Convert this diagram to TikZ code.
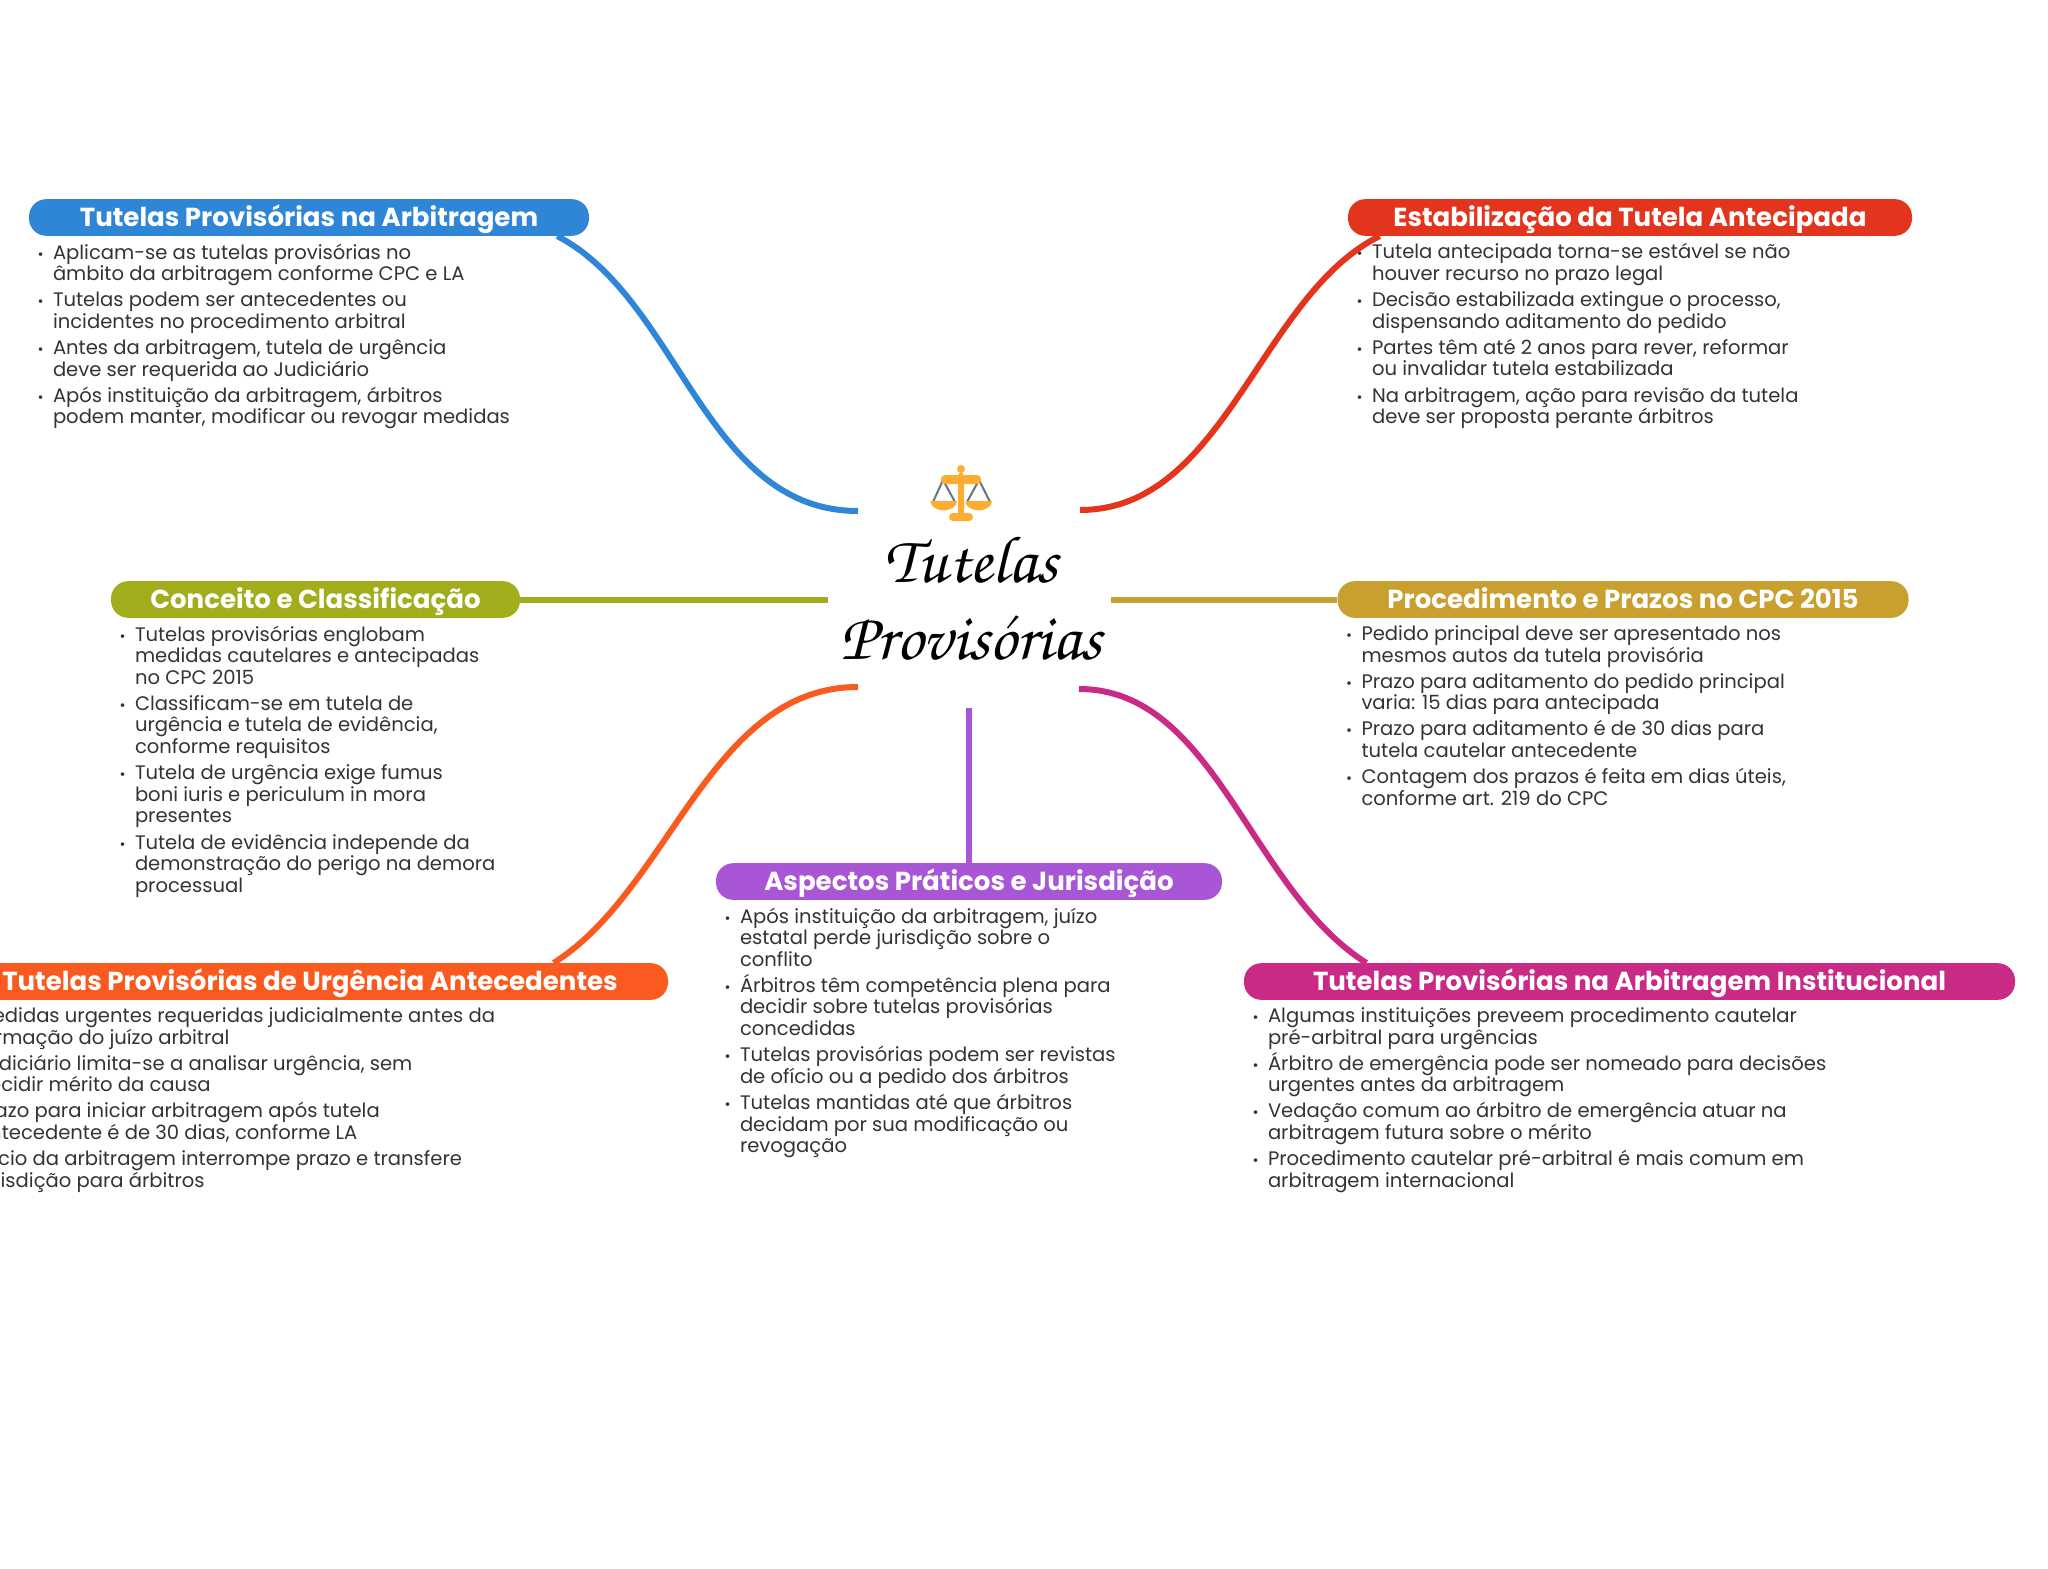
\documentclass[tikz,border=0pt]{standalone}
\usepackage[T1]{fontenc}
\usepackage{fontspec}
\setmainfont{Poppins}
\usepackage{tikz}
\usetikzlibrary{positioning}
\definecolor{ink}{HTML}{333333}
\definecolor{blue}{HTML}{2F86D7}
\definecolor{red}{HTML}{E3351E}
\definecolor{olive}{HTML}{A2AD1B}
\definecolor{gold}{HTML}{C9A02F}
\definecolor{purple}{HTML}{A855D6}
\definecolor{orange}{HTML}{F95A1F}
\definecolor{magenta}{HTML}{C92A86}
\definecolor{scalegold}{HTML}{FFAC33}
\definecolor{scalegrey}{HTML}{66757F}
\normallineskiplimit=-20pt
\lineskiplimit=-20pt
\newcommand{\bul}{\leavevmode\llap{{\fontsize{11}{11}\selectfont•}\hspace{7pt}}}
\begin{document}
\begin{tikzpicture}[x=0.75pt,y=-0.75pt,
 pill/.style={rounded corners=13pt,minimum height=27.5pt,inner sep=0pt,text height=18.5pt,text depth=5pt,text=white,font=\fontsize{19.55}{20}\selectfont\bfseries},
 bullets/.style={align=left,inner sep=0pt,text=ink,font=\fontsize{14.68}{16.2}\selectfont},
 branch/.style={line width=4.5pt},
 hubtext/.style={align=center,inner sep=0pt,text=black,font=\fontsize{50}{57.75}\fontencoding{T1}\fontfamily{pzc}\fontseries{mb}\fontshape{it}\selectfont}]
 \clip (0,0) rectangle (2048,1569);
 \node[hubtext] (hub) at (971,598) {Tutelas\\Provisórias};
 \coordinate (hubnw) at (858,511);
 \coordinate (hubne) at (1080,510);
 \coordinate (hubw) at (828,599.5);
 \coordinate (hube) at (1111,599.5);
 \coordinate (hubsw) at (858,687);
 \coordinate (hubse) at (1079,689);
 \coordinate (hubs) at (969,708);

 \node[pill,fill=blue,minimum width=420pt] (arb) at (309,217.5) {Tutelas Provisórias na Arbitragem};
 \node[pill,fill=red,minimum width=423pt] (est) at (1630,217.5) {Estabilização da Tutela Antecipada};
 \node[pill,fill=olive,minimum width=306.75pt] (con) at (315.5,599.5) {Conceito e Classificação};
 \node[pill,fill=gold,minimum width=428.25pt] (pro) at (1623,599.5) {Procedimento e Prazos no CPC 2015};
 \node[pill,fill=purple,minimum width=379.5pt] (asp) at (969,881.5) {Aspectos Práticos e Jurisdição};
 \node[pill,fill=orange,minimum width=537pt] (urg) at (310,981.5) {Tutelas Provisórias de Urgência Antecedentes};
 \node[pill,fill=magenta,minimum width=578.25pt] (ins) at (1629.5,981.5) {Tutelas Provisórias na Arbitragem Institucional};

 \node[bullets,below right=5.4pt and 18pt of arb.south west] (arbtxt) {\bul Aplicam-se as tutelas provisórias no\\âmbito da arbitragem conforme CPC e LA\\[3.4pt]
 \bul Tutelas podem ser antecedentes ou\\incidentes no procedimento arbitral\\[3.4pt]
 \bul Antes da arbitragem, tutela de urgência\\deve ser requerida ao Judiciário\\[3.4pt]
 \bul Após instituição da arbitragem, árbitros\\podem manter, modificar ou revogar medidas};
 \node[bullets,below right=5.4pt and 18pt of est.south west] (esttxt) {\bul Tutela antecipada torna-se estável se não\\houver recurso no prazo legal\\[3.4pt]
 \bul Decisão estabilizada extingue o processo,\\dispensando aditamento do pedido\\[3.4pt]
 \bul Partes têm até 2 anos para rever, reformar\\ou invalidar tutela estabilizada\\[3.4pt]
 \bul Na arbitragem, ação para revisão da tutela\\deve ser proposta perante árbitros};
 \node[bullets,below right=5.4pt and 18pt of con.south west] (contxt) {\bul Tutelas provisórias englobam\\medidas cautelares e antecipadas\\no CPC 2015\\[3.4pt]
 \bul Classificam-se em tutela de\\urgência e tutela de evidência,\\conforme requisitos\\[3.4pt]
 \bul Tutela de urgência exige fumus\\boni iuris e periculum in mora\\presentes\\[3.4pt]
 \bul Tutela de evidência independe da\\demonstração do perigo na demora\\processual};
 \node[bullets,below right=5.4pt and 18pt of pro.south west] (protxt) {\bul Pedido principal deve ser apresentado nos\\mesmos autos da tutela provisória\\[3.4pt]
 \bul Prazo para aditamento do pedido principal\\varia: 15 dias para antecipada\\[3.4pt]
 \bul Prazo para aditamento é de 30 dias para\\tutela cautelar antecedente\\[3.4pt]
 \bul Contagem dos prazos é feita em dias úteis,\\conforme art. 219 do CPC};
 \node[bullets,below right=5.4pt and 18pt of asp.south west] (asptxt) {\bul Após instituição da arbitragem, juízo\\estatal perde jurisdição sobre o\\conflito\\[3.4pt]
 \bul Árbitros têm competência plena para\\decidir sobre tutelas provisórias\\concedidas\\[3.4pt]
 \bul Tutelas provisórias podem ser revistas\\de ofício ou a pedido dos árbitros\\[3.4pt]
 \bul Tutelas mantidas até que árbitros\\decidam por sua modificação ou\\revogação};
 \node[bullets,below right=5.4pt and 18pt of urg.south west] (urgtxt) {\bul Medidas urgentes requeridas judicialmente antes da\\formação do juízo arbitral\\[3.4pt]
 \bul Judiciário limita-se a analisar urgência, sem\\decidir mérito da causa\\[3.4pt]
 \bul Prazo para iniciar arbitragem após tutela\\antecedente é de 30 dias, conforme LA\\[3.4pt]
 \bul Início da arbitragem interrompe prazo e transfere\\jurisdição para árbitros};
 \node[bullets,below right=5.4pt and 18pt of ins.south west] (instxt) {\bul Algumas instituições preveem procedimento cautelar\\pré-arbitral para urgências\\[3.4pt]
 \bul Árbitro de emergência pode ser nomeado para decisões\\urgentes antes da arbitragem\\[3.4pt]
 \bul Vedação comum ao árbitro de emergência atuar na\\arbitragem futura sobre o mérito\\[3.4pt]
 \bul Procedimento cautelar pré-arbitral é mais comum em\\arbitragem internacional};

 \draw[branch,blue] ([xshift=-24pt]arb.south east) .. controls (680,300) and (705,511) .. (hubnw);
 \draw[branch,red] ([xshift=24pt]est.south west) .. controls (1260,295) and (1225,510) .. (hubne);
 \draw[branch,olive] (con.east) -- (hubw);
 \draw[branch,gold] (pro.west) -- (hube);
 \draw[branch,orange] ([xshift=-86pt]urg.north east) .. controls (670,890) and (710,687) .. (hubsw);
 \draw[branch,magenta] ([xshift=92pt]ins.north west) .. controls (1250,890) and (1215,689) .. (hubse);
 \draw[branch,purple] (asp.north) -- (hubs);

 \draw[scalegrey,line width=1.5pt] (933,502) -- (943,480) -- (955,502) (967,502) -- (979,480) -- (990,502);
 \fill[scalegold,rounded corners=3pt] (958,472) rectangle (964,516);
 \fill[scalegold] (961,469) circle (3pt);
 \fill[scalegold,rounded corners=3pt] (941,475) rectangle (981,484);
 \fill[scalegold,rounded corners=3pt] (949,513) rectangle (973,521);
 \fill[scalegold] (930,501) -- (957,501) arc[start angle=0,end angle=-180,x radius=10pt,y radius=7pt] -- cycle;
 \fill[scalegold] (965,501) -- (992,501) arc[start angle=0,end angle=-180,x radius=10pt,y radius=7pt] -- cycle;
\end{tikzpicture}
\end{document}
